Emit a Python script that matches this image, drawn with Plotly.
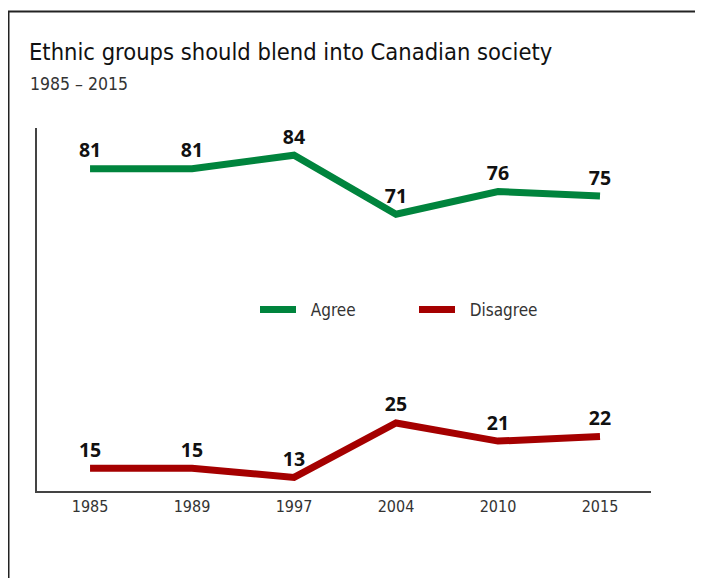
import plotly.graph_objects as go

years = ["1985", "1989", "1997", "2004", "2010", "2015"]
agree = [81, 81, 84, 71, 76, 75]
disagree = [15, 15, 13, 25, 21, 22]

GREEN = "#00843d"
RED = "#a50000"
NARROW = "Liberation Sans Narrow, DejaVu Sans Condensed, Arial Narrow, sans-serif"
LABEL_FONT = dict(family="Open Sans", size=19.5, color="#111111", weight="bold")
NB = "\u00a0\u00a0"

fig = go.Figure()
for name, vals, col in [("Agree", agree, GREEN), ("Disagree", disagree, RED)]:
    fig.add_trace(go.Scatter(
        x=years, y=vals, name=NB + name, mode="lines+markers+text",
        line=dict(color=col, width=7),
        marker=dict(size=9, color="rgba(0,0,0,0)"),
        text=[str(v) for v in vals], textposition="top center",
        textfont=LABEL_FONT, cliponaxis=False,
    ))

OFF = 8  # page body margin
W, H = 703 - OFF, 578 - OFF
# plot area in reference pixel coordinates
X0, X1, Y0, Y1 = 37, 651, 128, 491
L, R, T, B = X0 - OFF, W - (X1 - OFF), Y0 - OFF, H - (Y1 - OFF)
pw, ph = X1 - X0, Y1 - Y0

def px_x(px):
    return (px - X0) / pw

def px_y(py):
    return (Y1 - py) / ph

fig.update_layout(
    width=W, height=H,
    margin=dict(l=L, r=R, t=T, b=B),
    paper_bgcolor="white", plot_bgcolor="white",
    showlegend=True,
    legend=dict(
        orientation="h", x=px_x(255), y=px_y(310), xanchor="left", yanchor="middle",
        font=dict(family=NARROW, size=17, color="#333333"),
        itemwidth=36, entrywidth=108, bgcolor="rgba(0,0,0,0)",
    ),
    xaxis=dict(
        type="category", range=[-0.52, 5.5],
        showline=True, linecolor="#444444", linewidth=1.5,
        showgrid=False, zeroline=False, ticks="",
        tickfont=dict(family=NARROW, size=16, color="#333333"),
    ),
    yaxis=dict(
        range=[10, 90], showline=True, linecolor="#444444", linewidth=1.5,
        showgrid=False, zeroline=False, showticklabels=False, ticks="",
    ),
    title=dict(
        text="Ethnic groups should blend into Canadian society",
        xref="container", yref="container",
        x=(29 - OFF) / W, xanchor="left", y=1 - (52 - OFF) / H, yanchor="middle",
        font=dict(family=NARROW, size=23.5, color="#111111"),
    ),
    annotations=[dict(
        text="1985 – 2015", xref="paper", yref="paper",
        x=px_x(28), y=px_y(84), xanchor="left", yanchor="middle",
        showarrow=False, font=dict(family=NARROW, size=17.5, color="#333333"),
    )],
    shapes=[
        dict(type="line", xref="paper", yref="paper",
             x0=px_x(8.5), x1=px_x(8.5), y0=px_y(11), y1=px_y(600),
             line=dict(color="#222222", width=2)),
        dict(type="line", xref="paper", yref="paper",
             x0=px_x(7.5), x1=px_x(720), y0=px_y(11.5), y1=px_y(11.5),
             line=dict(color="#222222", width=2)),
    ],
)

fig.write_html("out.html")
